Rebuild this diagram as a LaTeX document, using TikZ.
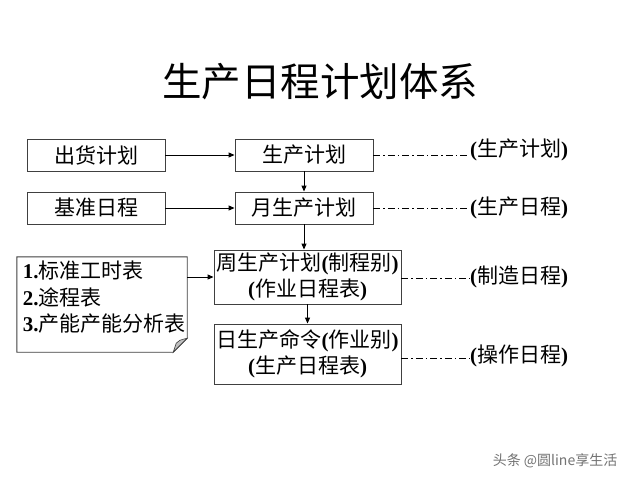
\documentclass[tikz,border=0pt]{standalone}
\usepackage{fontspec}
\setmainfont{Liberation Serif}
\newfontfamily\cjk{Noto Sans CJK SC}
\usetikzlibrary{arrows.meta}
\newcommand\lt[1]{{\rmfamily\bfseries #1}}
\newcommand\zh[1]{{\cjk #1}}
\tikzset{
  box/.style={draw=black!75, line width=0.9pt, inner sep=0pt, align=center,
    font=\fontsize{21}{26.5}\selectfont},
  arr/.style={line width=1pt, -{Triangle[length=6pt,width=5pt]}},
  dd/.style={line width=1pt, dash pattern=on 7pt off 3pt on 1.5pt off 3pt},
  lab/.style={anchor=west, inner sep=0pt, font=\fontsize{21}{24}\selectfont},
}
\begin{document}
\begin{tikzpicture}[x=1pt,y=-1pt]
\useasboundingbox[fill=white] (0,0) rectangle (640,480);
\node[inner sep=0pt, font=\fontsize{39.5}{44}\selectfont] (title) at (320,82) {\zh{生产日程计划体系}};

\node[box, minimum width=138pt, minimum height=32pt] (ship) at (96,155) {\zh{出货计划}};
\node[box, minimum width=138pt, minimum height=32pt] (plan) at (304,155) {\zh{生产计划}};
\node[box, minimum width=138pt, minimum height=32pt] (base) at (96,208) {\zh{基准日程}};
\node[box, minimum width=138pt, minimum height=32pt] (month) at (304,208) {\zh{月生产计划}};
\node[box, minimum width=187pt, minimum height=54pt] (week) at (307.5,277) {\zh{周生产计划}\lt{(}\zh{制程别}\lt{)}\\\lt{(}\zh{作业日程表}\lt{)}};
\node[box, minimum width=187pt, minimum height=60pt] (day) at (307.5,354) {\zh{日生产命令}\lt{(}\zh{作业别}\lt{)}\\\lt{(}\zh{生产日程表}\lt{)}};

\node[inner sep=0pt, minimum width=170pt, minimum height=95pt] (note) at (102,304.5) {};
\draw[line width=0.9pt, draw=black!75] (note.north west) -- (note.north east) -- ([yshift=14pt]note.south east) -- ([xshift=-14pt]note.south east) -- (note.south west) -- cycle;
\draw[line width=0.6pt, draw=black!75, fill=black!25] ([yshift=14pt]note.south east) .. controls ([xshift=-8pt,yshift=12pt]note.south east) .. ([xshift=-11pt,yshift=9pt]note.south east) .. controls ([xshift=-12pt,yshift=6pt]note.south east) .. ([xshift=-14pt]note.south east) -- cycle;
\node[anchor=north west, inner sep=0pt, align=left, font=\fontsize{21}{26.5}\selectfont] (notetext) at ([xshift=6pt,yshift=-4pt]note.north west)
  {\lt{1.}\zh{标准工时表}\\\lt{2.}\zh{途程表}\\\lt{3.}\zh{产能产能分析表}};

\draw[arr] (ship) -- (plan);
\draw[arr] (base) -- (month);
\draw[arr] (plan) -- (month);
\draw[arr] (month.south) -- (month.south |- week.north);
\draw[arr] (week.south) -- (week.south |- day.north);
\draw[arr] (note.east |- week.center) -- (week.west);

\node[lab] (l1) at (470,150) {\lt{(}\zh{生产计划}\lt{)}};
\node[lab] (l2) at (470,208) {\lt{(}\zh{生产日程}\lt{)}};
\node[lab] (l3) at (470,277) {\lt{(}\zh{制造日程}\lt{)}};
\node[lab] (l4) at (470,356) {\lt{(}\zh{操作日程}\lt{)}};
\draw[dd] (plan.east |- 0,155) -- (l1.west |- 0,155);
\draw[dd] (month.east) -- (l2.west);
\draw[dd] (week.east |- 0,278) -- (l3.west |- 0,278);
\draw[dd] (day.east |- 0,358) -- (l4.west |- 0,358);

\node[inner sep=0pt, text=black!55, font=\fontsize{14}{16}\selectfont] (wm) at (555,461) {\zh{头条 @圆line享生活}};
\end{tikzpicture}
\end{document}
